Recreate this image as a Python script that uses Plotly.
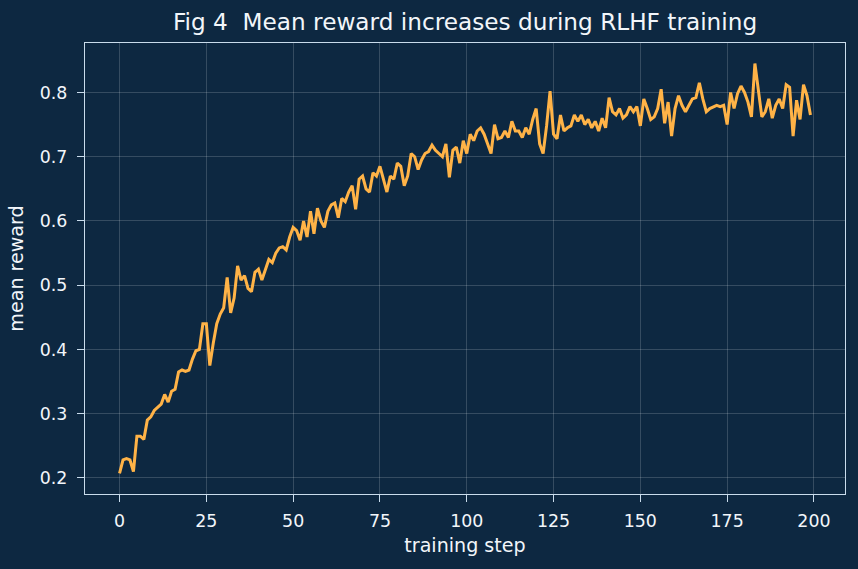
import plotly.graph_objects as go

steps = list(range(200))
reward = [
    0.207, 0.228, 0.230, 0.228, 0.210, 0.265, 0.265, 0.260, 0.290, 0.295,
    0.305, 0.310, 0.315, 0.330, 0.318, 0.335, 0.338, 0.365, 0.368, 0.366,
    0.368, 0.385, 0.398, 0.400, 0.440, 0.440, 0.375, 0.410, 0.440, 0.455,
    0.465, 0.512, 0.457, 0.480, 0.530, 0.508, 0.515, 0.495, 0.490, 0.520,
    0.525, 0.508, 0.525, 0.540, 0.535, 0.550, 0.558, 0.560, 0.555, 0.575,
    0.590, 0.585, 0.570, 0.600, 0.575, 0.615, 0.580, 0.620, 0.600, 0.590,
    0.615, 0.625, 0.628, 0.605, 0.635, 0.630, 0.645, 0.655, 0.618, 0.665,
    0.670, 0.650, 0.645, 0.675, 0.670, 0.685, 0.665, 0.645, 0.670, 0.665,
    0.690, 0.685, 0.655, 0.670, 0.705, 0.700, 0.680, 0.695, 0.705, 0.708,
    0.718, 0.710, 0.705, 0.700, 0.720, 0.668, 0.710, 0.715, 0.690, 0.725,
    0.705, 0.735, 0.725, 0.740, 0.745, 0.735, 0.720, 0.705, 0.750, 0.728,
    0.730, 0.740, 0.730, 0.755, 0.740, 0.740, 0.730, 0.745, 0.735, 0.758,
    0.775, 0.720, 0.705, 0.748, 0.802, 0.735, 0.728, 0.765, 0.740, 0.745,
    0.748, 0.765, 0.755, 0.765, 0.750, 0.758, 0.745, 0.755, 0.740, 0.760,
    0.745, 0.792, 0.770, 0.765, 0.775, 0.760, 0.765, 0.778, 0.770, 0.778,
    0.748, 0.790, 0.775, 0.758, 0.762, 0.775, 0.805, 0.752, 0.785, 0.732,
    0.775, 0.795, 0.780, 0.770, 0.780, 0.790, 0.792, 0.815, 0.790, 0.770,
    0.775, 0.778, 0.780, 0.778, 0.780, 0.750, 0.800, 0.775, 0.798, 0.810,
    0.800, 0.785, 0.762, 0.845, 0.800, 0.762, 0.770, 0.790, 0.760, 0.780,
    0.790, 0.775, 0.812, 0.808, 0.732, 0.788, 0.758, 0.812, 0.795, 0.765,
]

x_ticks = [0, 25, 50, 75, 100, 125, 150, 175, 200]
y_ticks = [0.2, 0.3, 0.4, 0.5, 0.6, 0.7, 0.8]

BG = "#0d2841"
LINE = "#ffb347"
SPINE = "#c9dcec"
GRID = "rgba(255,255,255,0.17)"
TXT = "#f2f6fa"
FONT = "DejaVu Sans"

fig = go.Figure()
fig.add_trace(go.Scatter(x=steps, y=reward, mode="lines",
                         line=dict(color=LINE, width=3), showlegend=False))

axis_common = dict(
    showline=True, linecolor=SPINE, linewidth=1.4, mirror=True,
    showgrid=True, gridcolor=GRID, gridwidth=0.9,
    zeroline=False, ticks="outside", ticklen=7, tickwidth=1.4, tickcolor=SPINE,
    tickfont=dict(color=TXT, size=17.4, family=FONT),
)

fig.update_layout(
    width=858, height=569,
    paper_bgcolor=BG, plot_bgcolor=BG,
    margin=dict(l=85, r=13, t=43, b=75),
    title=dict(text="Fig 4  Mean reward increases during RLHF training",
               x=0.542, xanchor="center", y=0.961, yanchor="middle",
               font=dict(color=TXT, size=23.2, family=FONT)),
    xaxis=dict(range=[-9.95, 208.95], tickvals=x_ticks, ticklabelstandoff=4,
               title=dict(text="training step", standoff=8,
                          font=dict(color=TXT, size=19.1, family=FONT)),
               **axis_common),
    yaxis=dict(range=[0.175, 0.877], tickvals=y_ticks, tickformat=".1f",
               ticklabelstandoff=6,
               title=dict(text="mean reward", standoff=10,
                          font=dict(color=TXT, size=19.1, family=FONT)),
               **axis_common),
)

fig.write_html("out.html")
